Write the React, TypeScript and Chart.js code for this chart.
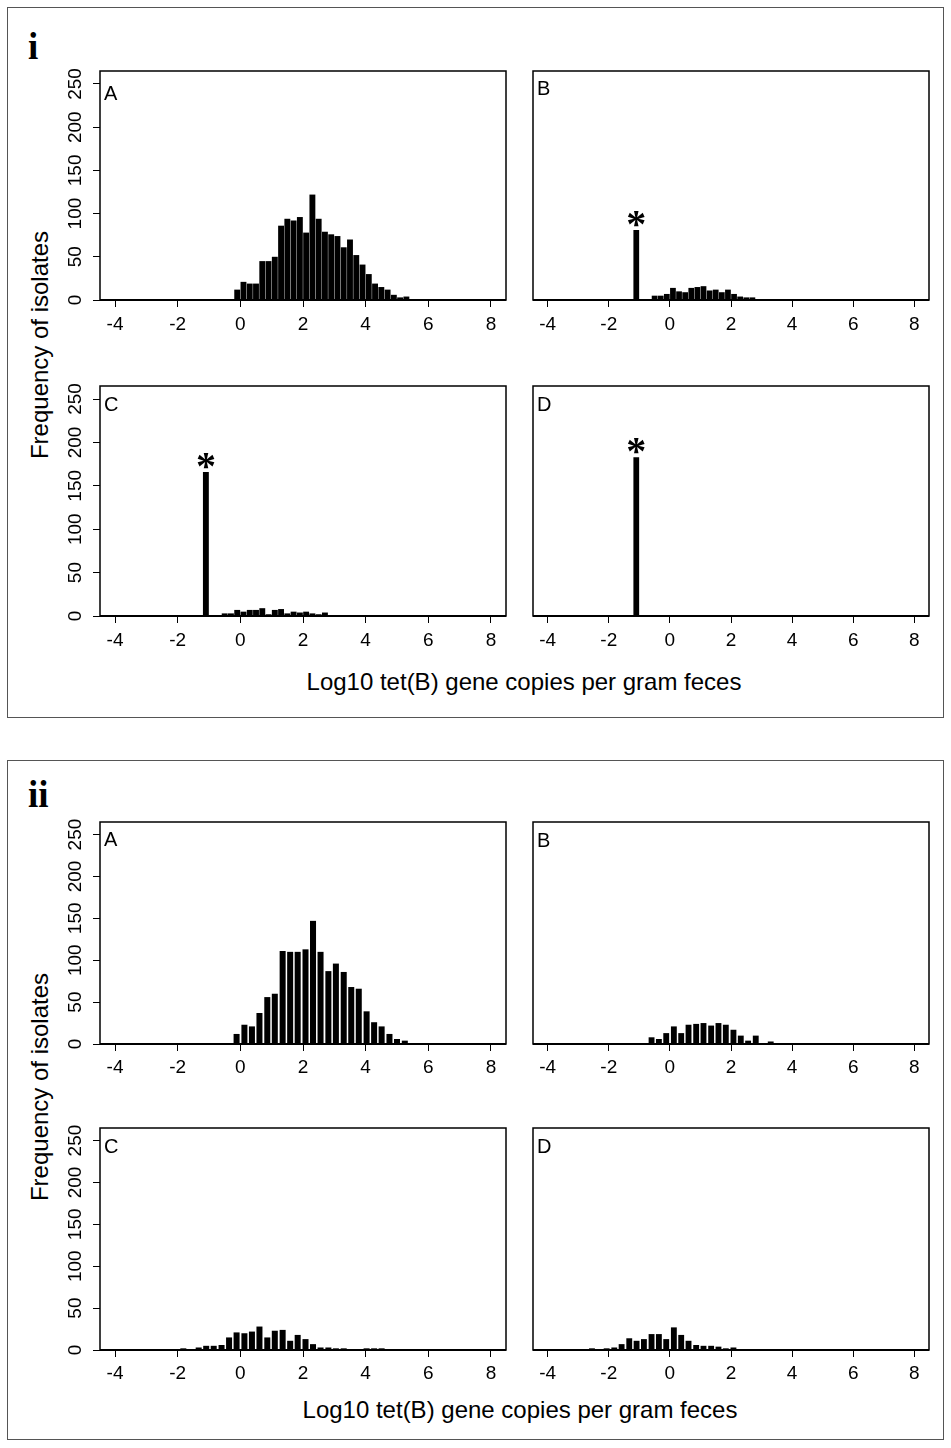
import React, { useEffect, useRef } from 'react';
import { Chart, registerables } from 'chart.js';

Chart.register(...registerables);

const SANS = '"Liberation Sans", Arial, Helvetica, sans-serif';
const SERIF = '"Liberation Serif", "Times New Roman", serif';

// ---------- data ----------
const xTicks = [-4, -2, 0, 2, 4, 6, 8];
const yTicks = [0, 50, 100, 150, 200, 250];
const X_MIN = -4.48;
const X_MAX = 8.48;
const Y_MAX = 265;

// Figure i: bin centres (width 0.2)
const binsI = [-1.1, -0.9, -0.7, -0.5, -0.3, -0.1, 0.1, 0.3, 0.5, 0.7, 0.9, 1.1, 1.3, 1.5, 1.7, 1.9, 2.1, 2.3, 2.5, 2.7, 2.9, 3.1, 3.3, 3.5, 3.7, 3.9, 4.1, 4.3, 4.5, 4.7, 4.9, 5.1, 5.3];
const iA = [0, 0, 0, 0, 1, 12, 21, 19, 19, 45, 45, 50, 86, 94, 92, 96, 78, 122, 94, 79, 76, 74, 61, 70, 52, 41, 30, 19, 15, 12, 6, 3, 4];
const iB = [81, 0, 1, 5, 5, 7, 14, 10, 9, 14, 15, 16, 11, 12, 9, 12, 7, 4, 3, 3, 1, 0, 0, 1, 0, 0, 0, 1, 0, 0, 0, 0, 0];
const iC = [166, 0, 0, 3, 3, 7, 5, 7, 7, 9, 2, 7, 8, 3, 5, 4, 5, 3, 2, 4, 0, 0, 0, 0, 0, 0, 1, 0, 1, 0, 0, 0, 0];
const iD = [183, 0, 0, 0, 0, 0, 0, 0, 0, 0, 0, 0, 0, 0, 0, 0, 0, 0, 0, 0, 0, 0, 0, 0, 0, 0, 0, 0, 0, 0, 0, 0, 0];

// Figure ii: bin centres
const binsII = [-2.55, -2.31, -2.07, -1.82, -1.58, -1.33, -1.09, -0.85, -0.6, -0.36, -0.12, 0.13, 0.37, 0.61, 0.86, 1.1, 1.35, 1.59, 1.83, 2.08, 2.32, 2.56, 2.81, 3.05, 3.3, 3.54, 3.78, 4.03, 4.27, 4.51, 4.76, 5.0, 5.25];
const iiA = [0, 0, 0, 0, 0, 0, 0, 0, 0, 1, 12, 23, 21, 37, 56, 60, 111, 110, 110, 113, 147, 110, 87, 96, 86, 68, 66, 39, 26, 21, 12, 6, 4];
const iiB = [0, 0, 0, 0, 0, 0, 1, 0, 8, 6, 13, 21, 13, 23, 24, 25, 22, 25, 23, 17, 10, 4, 10, 1, 3, 1, 0, 0, 1, 1, 0, 0, 0];
const iiC = [0, 0, 0, 2, 0, 3, 5, 5, 6, 15, 21, 20, 22, 28, 15, 23, 24, 11, 18, 13, 7, 3, 3, 2, 2, 0, 0, 2, 2, 2, 0, 0, 0];
const iiD = [2, 0, 2, 3, 7, 14, 11, 13, 19, 19, 13, 27, 18, 11, 6, 5, 5, 4, 2, 3, 0, 0, 0, 0, 0, 0, 0, 0, 0, 0, 0, 0, 0];

const xTitle = 'Log10 tet(B) gene copies per gram feces';
const yTitle = 'Frequency of isolates';

type Spec = {
  letter: string;
  bins: number[];
  values: number[];
  left: number;
  top: number;
  width: number;
  height: number;
  yAxis: boolean;
  barPct: number;
  letterBase: number;
  star: boolean;
  labelPad: number;
};

const specs: Spec[] = [
  { letter: 'A', bins: binsI, values: iA, left: 100, top: 71, width: 406, height: 229, yAxis: true, barPct: 0.94, letterBase: 29, star: false, labelPad: 6.5 },
  { letter: 'B', bins: binsI, values: iB, left: 523, top: 71, width: 406, height: 229, yAxis: false, barPct: 0.94, letterBase: 24, star: true, labelPad: 6.5 },
  { letter: 'C', bins: binsI, values: iC, left: 100, top: 386, width: 406, height: 230, yAxis: true, barPct: 0.94, letterBase: 24.7, star: true, labelPad: 6.5 },
  { letter: 'D', bins: binsI, values: iD, left: 523, top: 386, width: 406, height: 230, yAxis: false, barPct: 0.94, letterBase: 24.7, star: true, labelPad: 6.5 },
  { letter: 'A', bins: binsII, values: iiA, left: 100, top: 822, width: 406, height: 222, yAxis: true, barPct: 0.8, letterBase: 24, star: false, labelPad: 5 },
  { letter: 'B', bins: binsII, values: iiB, left: 523, top: 822, width: 406, height: 222, yAxis: false, barPct: 0.8, letterBase: 24.5, star: false, labelPad: 5 },
  { letter: 'C', bins: binsII, values: iiC, left: 100, top: 1128, width: 406, height: 222, yAxis: true, barPct: 0.8, letterBase: 24.5, star: false, labelPad: 5 },
  { letter: 'D', bins: binsII, values: iiD, left: 523, top: 1128, width: 406, height: 222, yAxis: false, barPct: 0.8, letterBase: 24.5, star: false, labelPad: 5 },
];

const PAD_T = 20;
const PAD_R = 14;
const PAD_B = 42;

const decorPlugin = {
  id: 'panelDecor',
  afterDraw(chart: any, _args: any, opts: any) {
    const { ctx, chartArea } = chart;
    const { left, top, right, bottom } = chartArea;
    ctx.save();
    ctx.strokeStyle = '#000';
    ctx.lineWidth = 1.5;
    ctx.strokeRect(left, top, right - left, bottom - top);
    ctx.lineWidth = 2;
    ctx.beginPath();
    ctx.moveTo(left, bottom);
    ctx.lineTo(right, bottom);
    ctx.stroke();
    ctx.fillStyle = '#000';
    ctx.font = `20px ${SANS}`;
    ctx.textAlign = 'left';
    ctx.textBaseline = 'alphabetic';
    ctx.fillText(opts.letter, left + 4, top + opts.letterBase);
    if (opts.star) {
      const el = chart.getDatasetMeta(0).data[0];
      if (el) {
        ctx.font = `bold 40px ${SERIF}`;
        ctx.textAlign = 'center';
        ctx.fillText('*', el.x, el.y + 7);
      }
    }
    ctx.restore();
  },
};

function Panel({ spec }: { spec: Spec }) {
  const ref = useRef<HTMLCanvasElement | null>(null);
  const padL = spec.yAxis ? 48 : 10;
  const cw = spec.width + padL + PAD_R;
  const ch = spec.height + PAD_T + PAD_B;

  useEffect(() => {
    if (!ref.current) return;
    const tickFont = { family: SANS, size: 19 };
    const chart = new Chart(ref.current, {
      type: 'bar',
      data: {
        datasets: [
          {
            data: spec.bins.map((x, i) => ({ x, y: spec.values[i] })),
            backgroundColor: '#000',
            borderWidth: 0,
            barPercentage: spec.barPct,
            categoryPercentage: 1,
          } as any,
        ],
      },
      options: {
        animation: false,
        responsive: false,
        maintainAspectRatio: false,
        events: [],
        layout: { padding: { left: spec.yAxis ? 0 : padL, top: PAD_T, right: PAD_R, bottom: 0 } },
        plugins: {
          legend: { display: false },
          tooltip: { enabled: false },
          panelDecor: { letter: spec.letter, letterBase: spec.letterBase, star: spec.star },
        } as any,
        scales: {
          x: {
            type: 'linear',
            min: X_MIN,
            max: X_MAX,
            offset: false,
            afterBuildTicks: (s: any) => {
              s.ticks = xTicks.map((v) => ({ value: v }));
            },
            afterFit: (s: any) => {
              s.height = PAD_B;
            },
            grid: { display: true, drawOnChartArea: false, drawTicks: true, tickLength: 7, color: '#000', lineWidth: 1, offset: false },
            border: { display: false },
            ticks: { font: tickFont, color: '#000', padding: spec.labelPad, maxRotation: 0, minRotation: 0, autoSkip: false, includeBounds: false },
          },
          y: {
            display: spec.yAxis,
            min: 0,
            max: Y_MAX,
            afterBuildTicks: (s: any) => {
              s.ticks = yTicks.map((v) => ({ value: v }));
            },
            afterFit: (s: any) => {
              s.width = padL;
            },
            grid: { display: true, drawOnChartArea: false, drawTicks: true, tickLength: 7, color: '#000', lineWidth: 1 },
            border: { display: false },
            ticks: { font: tickFont, color: '#000', padding: 1, minRotation: 90, maxRotation: 90, crossAlign: 'center', includeBounds: false },
          },
        } as any,
      },
      plugins: [decorPlugin],
    });
    return () => chart.destroy();
  }, [spec]);

  return (
    <canvas
      ref={ref}
      width={cw}
      height={ch}
      style={{ position: 'absolute', left: spec.left - padL, top: spec.top - PAD_T, width: cw, height: ch }}
    />
  );
}

const frameStyle = (top: number, height: number): React.CSSProperties => ({
  position: 'absolute',
  left: 7,
  top,
  width: 937,
  height,
  border: '1px solid #555',
  boxSizing: 'border-box',
});

const titleX = (cx: number, baseline: number): React.CSSProperties => ({
  position: 'absolute',
  left: cx,
  top: baseline - 20.3,
  transform: 'translateX(-50%)',
  whiteSpace: 'nowrap',
  fontFamily: SANS,
  fontSize: 24,
  lineHeight: '24px',
  color: '#000',
});

const titleY = (cx: number, cy: number): React.CSSProperties => ({
  position: 'absolute',
  left: cx,
  top: cy,
  transform: 'translate(-50%, -50%) rotate(-90deg)',
  whiteSpace: 'nowrap',
  fontFamily: SANS,
  fontSize: 24,
  lineHeight: '24px',
  color: '#000',
});

const roman = (left: number, baseline: number): React.CSSProperties => ({
  position: 'absolute',
  left,
  top: baseline - 31,
  fontFamily: SERIF,
  fontWeight: 'bold',
  fontSize: 37,
  lineHeight: '37px',
  color: '#000',
});

export default function App() {
  return (
    <div style={{ position: 'absolute', left: 0, top: 0, width: 951, height: 1448, background: '#fff', overflow: 'hidden' }}>
      <div style={frameStyle(7, 711)} />
      <div style={frameStyle(760, 680)} />
      <div style={roman(28, 59)}>i</div>
      <div style={roman(28, 807)}>ii</div>
      <div style={titleY(40, 345)}>{yTitle}</div>
      <div style={titleY(40, 1087)}>{yTitle}</div>
      <div style={titleX(524, 690)}>{xTitle}</div>
      <div style={titleX(520, 1418)}>{xTitle}</div>
      {specs.map((s, i) => (
        <Panel key={i} spec={s} />
      ))}
    </div>
  );
}
